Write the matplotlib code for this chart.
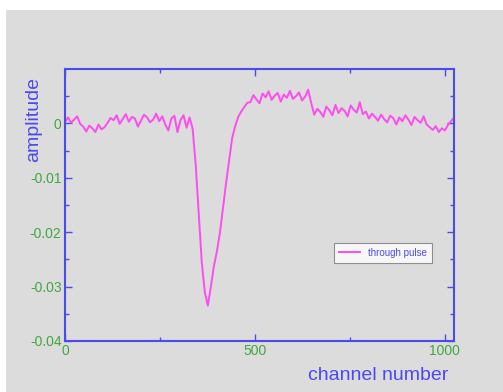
import numpy as np
import matplotlib
matplotlib.use('Agg')
import matplotlib.pyplot as plt
from matplotlib.patches import Rectangle

plt.rcParams['font.family'] = ['Liberation Sans', 'DejaVu Sans']

### data: channel number vs amplitude (every 8 channels)
channel = np.append(np.arange(0, 1017, 8), 1023)
amplitude = [
    0.0003, 0.0011, 0.0001, 0.0007, 0.0013, -0.0001,
    -0.0006, -0.0015, -0.0004, -0.0009, -0.0016, -0.0002, -0.0011, -0.0007,
    0.0001, 0.0010, 0.0006, 0.0015, -0.0001, 0.0008, 0.0017, 0.0003, 0.0012, 0.0009,
    -0.0006, 0.0005, 0.0016, 0.0011, 0.0002, 0.0007, 0.0018, 0.0004, 0.0013, -0.0002,
    -0.0013, 0.0009, 0.0014, -0.0016, 0.0006, 0.0015, -0.0008, 0.0011,
    -0.0010, -0.0075, -0.0165, -0.0255, -0.0310, -0.0335, -0.0300, -0.0262, -0.0235,
    -0.0200, -0.0155, -0.0110, -0.0068, -0.0027, -0.0005, 0.0012, 0.0022, 0.0030, 0.0038,
    0.0039, 0.0052, 0.0044, 0.0037, 0.0055, 0.0048, 0.0059, 0.0043, 0.0051, 0.0056,
    0.0040, 0.0053, 0.0047, 0.0060, 0.0045, 0.0050, 0.0057, 0.0042, 0.0049, 0.0062,
    0.0038, 0.0016, 0.0027, 0.0021, 0.0012, 0.0031, 0.0024, 0.0015, 0.0034, 0.0019,
    0.0028, 0.0023, 0.0013, 0.0033, 0.0025, 0.0020, 0.0039, 0.0017, 0.0022, 0.0009,
    0.0018, 0.0012, 0.0005, 0.0016, 0.0008, 0.0002, 0.0014, 0.0010, -0.0002, 0.0011,
    0.0004, 0.0015, 0.0007, -0.0003, 0.0012, 0.0006, 0.0001, 0.0013, -0.0002, -0.0007,
    -0.0012, -0.0005, -0.0016, -0.0009, -0.0013, -0.0003, 0.0004,
    0.0010,
]
xticks = [0, 500, 1000]
xminor = [250, 750]
yticks = [-0.04, -0.03, -0.02, -0.01, 0]
ytick_labels = ['-0.04', '-0.03', '-0.02', '-0.01', '0']
yminor = [-0.035, -0.025, -0.015, -0.005, 0.005]

blue = '#4a4af0'
green = '#3fa83f'
pink = '#ff4cf0'
grey = '#dcdcdc'

fig = plt.figure(figsize=(5.03, 3.92), dpi=100, facecolor='white')
fig.patches.append(Rectangle((6 / 503, 0), 1, (392 - 10) / 392, transform=fig.transFigure,
                             facecolor=grey, edgecolor='none', zorder=-10))

ax = fig.add_axes([65 / 503, 51 / 392, 389 / 503, 272 / 392])
ax.set_facecolor(grey)
l1, = ax.plot(channel, amplitude, color=pink, lw=1.4)

ax.set_xlim(0, 1024)
ax.set_ylim(-0.04, 0.01)
ax.set_xticks(xticks)
ax.set_xticks(xminor, minor=True)
ax.set_yticks(yticks)
ax.set_yticklabels(ytick_labels)
ax.set_yticks(yminor, minor=True)

for s in ax.spines.values():
    s.set_color(blue)
    s.set_linewidth(1.5)
ax.tick_params(which='both', direction='in', top=True, right=True, color=blue,
               labelcolor=green, labelsize=10, width=1)
ax.tick_params(which='major', length=5, pad=2.5)
ax.tick_params(which='minor', length=3)

ax.set_xlabel('channel number', color=blue, fontsize=14, ha='right')
ax.xaxis.set_label_coords(0.985, -0.095)
ax.set_ylabel('amplitude', color=blue, fontsize=14, ha='right')
ax.yaxis.set_label_coords(-0.058, 0.97)

leg = ax.legend([l1], ['through pulse'], loc='lower right', bbox_to_anchor=(0.955, 0.27),
                fontsize=7, frameon=True, fancybox=False, handlelength=2.2,
                borderpad=0.5, labelcolor=blue)
leg.get_frame().set_edgecolor('#777777')
leg.get_frame().set_facecolor('white')
leg.get_frame().set_linewidth(0.8)

fig.savefig('out.png', dpi=100)
